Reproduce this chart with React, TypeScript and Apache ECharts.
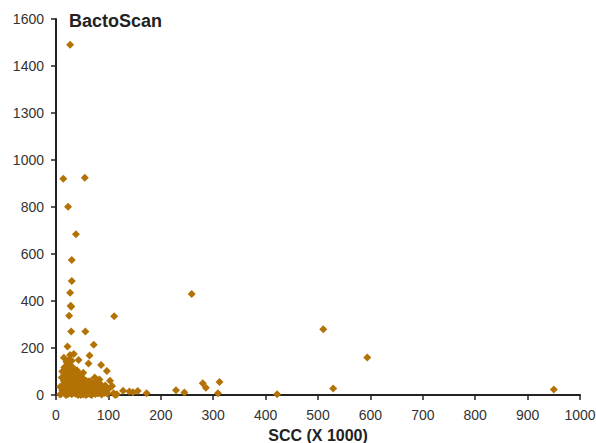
import React, { useEffect, useRef } from "react";
import * as echarts from "echarts";

const title = "BactoScan";
const xAxisName = "SCC (X 1000)";
const yTickLabels = ["0", "200", "400", "600", "800", "1000", "1300", "1400", "1600"];
const xTickLabels = ["0", "100", "200", "300", "400", "500", "600", "700", "800", "900", "1000"];

// [SCC (x1000), BactoScan]
const outlierPoints: number[][] = [
  [27, 1490], [14, 920], [55, 925], [23, 801], [38, 684], [30, 574], [30, 485], [27, 435],
  [259, 430], [28, 380], [29, 376], [25, 337], [111, 335], [29, 270], [56, 270], [22, 206],
  [72, 214], [15, 159], [27, 170], [34, 174], [30, 146], [43, 149], [64, 168], [62, 134],
  [86, 128], [97, 102], [16, 117], [20, 100], [29, 106], [74, 75], [83, 66], [103, 61],
  [107, 38], [48, 81], [62, 57], [128, 18], [140, 15], [147, 12], [156, 17], [173, 7],
  [229, 20], [245, 11], [116, 3], [110, 7], [113, 0], [280, 50], [286, 31], [312, 55],
  [309, 7], [422, 3], [510, 280], [529, 28], [594, 160], [950, 23],
];

const clusterPoints: number[][] = [
  [10, 5], [12, 20], [13, 40], [15, 60], [16, 85], [17, 10], [18, 30], [19, 50], [20, 70],
  [21, 2], [22, 15], [23, 35], [24, 90], [25, 55], [26, 8], [27, 25], [28, 45], [29, 75],
  [30, 3], [31, 18], [32, 60], [33, 95], [34, 12], [35, 40], [36, 28], [37, 5], [38, 70],
  [39, 50], [40, 20], [41, 85], [42, 0], [43, 35], [44, 10], [45, 60], [46, 25], [47, 45],
  [48, 5], [49, 15], [50, 30], [51, 70], [52, 2], [53, 50], [54, 20], [55, 8], [56, 40],
  [57, 62], [58, 14], [59, 3], [60, 28], [61, 45], [62, 10], [63, 20], [64, 5], [65, 35],
  [66, 58], [67, 12], [68, 0], [69, 25], [70, 42], [71, 8], [72, 18], [73, 30], [75, 4],
  [76, 50], [78, 15], [79, 60], [80, 6], [81, 22], [83, 35], [84, 10], [86, 44], [87, 2],
  [88, 20], [90, 30], [92, 8], [94, 40], [96, 14], [98, 5], [100, 25], [18, 120], [22, 110],
  [26, 130], [33, 115], [14, 45], [11, 75], [12, 100], [20, 140], [25, 150], [35, 100],
  [40, 105], [45, 90], [52, 95], [28, 95], [31, 65], [24, 5], [36, 80], [47, 0], [57, 0],
  [66, 3], [19, 0], [8, 2], [8, 35],
];

const markerColor = "#B37205";

export default function App() {
  const ref = useRef<HTMLDivElement>(null);
  useEffect(() => {
    if (!ref.current) return;
    const chart = echarts.init(ref.current, null, { renderer: "svg" });
    const font = "'Liberation Sans', Arial, sans-serif";
    chart.setOption({
      animation: false,
      backgroundColor: "#ffffff",
      textStyle: { fontFamily: font },
      title: {
        text: title,
        left: 64,
        top: 7,
        textStyle: { fontSize: 18, fontWeight: "bold", color: "#222", fontFamily: font },
      },
      grid: {
        left: 56,
        right: 16,
        top: 19,
        bottom: 48,
        containLabel: false,
        outerBoundsMode: "none",
      },
      xAxis: {
        type: "value",
        min: 0,
        max: 1000,
        interval: 100,
        name: xAxisName,
        nameLocation: "middle",
        nameGap: 32,
        nameTextStyle: { fontSize: 16, fontWeight: "bold", color: "#222", fontFamily: font },
        axisLine: { show: true, lineStyle: { color: "#222", width: 2 } },
        axisTick: { show: true, inside: false, length: 5, lineStyle: { color: "#222", width: 1.5 } },
        axisLabel: {
          fontSize: 14,
          color: "#333",
          margin: 13,
          formatter: (v: number) => xTickLabels[Math.round(v / 100)] ?? "",
        },
        splitLine: { show: false },
      },
      yAxis: {
        type: "value",
        min: 0,
        max: 1600,
        interval: 200,
        axisLine: { show: true, lineStyle: { color: "#222", width: 2 } },
        axisTick: { show: true, inside: false, length: 5, lineStyle: { color: "#222", width: 1.5 } },
        axisLabel: {
          fontSize: 14,
          color: "#333",
          margin: 12,
          formatter: (v: number) => yTickLabels[Math.round(v / 200)] ?? "",
        },
        splitLine: { show: false },
      },
      series: [
        {
          type: "scatter",
          symbol: "diamond",
          symbolSize: 8,
          itemStyle: { color: markerColor, opacity: 1 },
          data: [...outlierPoints, ...clusterPoints],
        },
      ],
    });
    return () => chart.dispose();
  }, []);
  return (
    <div
      ref={ref}
      style={{ position: "fixed", left: 0, top: 0, width: 596, height: 443 }}
    />
  );
}
